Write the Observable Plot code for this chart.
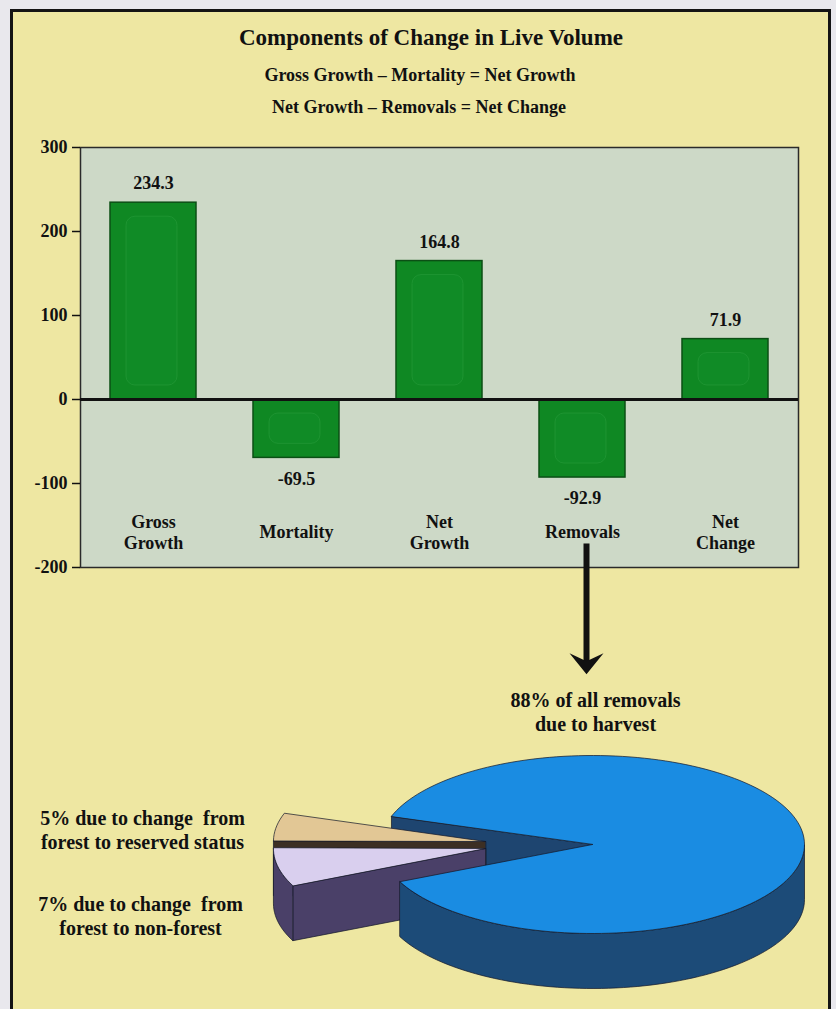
<!DOCTYPE html>
<html><head><meta charset="utf-8">
<script src="https://cdn.jsdelivr.net/npm/d3@7"></script>
<script src="https://cdn.jsdelivr.net/npm/@observablehq/plot@0.6"></script>
<style>
html,body{margin:0;padding:0;background:#e9e8ed;}
#page{position:relative;width:836px;height:1009px;overflow:hidden;background:#e9e8ed;font-family:'Liberation Serif','Times New Roman',serif;font-weight:bold;color:#111;}
#panel{position:absolute;left:10px;top:9px;width:821px;height:1100px;box-sizing:border-box;border:3px solid #141414;background:#eee7a2;}
.t{position:absolute;white-space:nowrap;line-height:1;transform:translate(-50%,-50%);}
#bar,#pie{position:absolute;left:0;}
#bar{top:120px;} #pie{top:680px;}
</style></head><body>
<div id="page">
  <div id="panel"></div>
  <div class="t" style="left:431px;top:37px;font-size:23px">Components of Change in Live Volume</div>
  <div class="t" style="left:420px;top:75px;font-size:18px">Gross Growth – Mortality = Net Growth</div>
  <div class="t" style="left:419px;top:107px;font-size:18px">Net Growth – Removals = Net Change</div>
  <div id="bar"></div>
  <div id="pie"></div>
</div>
<script>
// ---- Bar chart data ----
const categories = ["Gross Growth", "Mortality", "Net Growth", "Removals", "Net Change"];
const categoryLabels = ["Gross\nGrowth", "Mortality", "Net\nGrowth", "Removals", "Net\nChange"];
const values = [234.3, -69.5, 164.8, -92.9, 71.9];
const yTicks = [-200, -100, 0, 100, 200, 300];
const yDomain = [-200, 300];

// ---- Pie data (removals breakdown) ----
const sliceNames = ["Reserved status", "Non-forest", "Harvest"];
const sliceShares = [5, 7, 88];
const sliceLabels = [
  "5% due to change  from\nforest to reserved status",
  "7% due to change  from\nforest to non-forest",
  "88% of all removals\ndue to harvest"
];

// ---- Styling / layout ----
const font = "'Liberation Serif','Times New Roman',serif";
const barData = categories.map((c, i) => ({cat: c, label: categoryLabels[i], value: values[i]}));
const fmt = v => String(v);

// stealth arrowhead symbol, origin at the tip
const stealth = {
  draw(ctx) {
    ctx.moveTo(0, 0);
    ctx.lineTo(-17, -21);
    ctx.lineTo(0, -13);
    ctx.lineTo(17, -21);
    ctx.closePath();
  }
};

const bar = Plot.plot({
  width: 836, height: 570,
  marginTop: 27, marginBottom: 123, marginLeft: 80, marginRight: 38,
  x: {domain: categories, paddingInner: 0.4, paddingOuter: 0.2, axis: null},
  y: {domain: yDomain, axis: null},
  style: {background: "transparent", fontFamily: font, fontSize: "18px", fontWeight: "bold", color: "#111", overflow: "visible"},
  marks: [
    Plot.frame({fill: "#cdd9c7", stroke: "#2a2a2a", strokeWidth: 1.5}),
    Plot.axisY({ticks: yTicks, tickSize: 8, tickPadding: 5, tickFormat: fmt, label: null, fontSize: 18, fontWeight: "bold", strokeWidth: 1.5}),
    Plot.barY(barData, {x: "cat", y: "value", fill: "#0f8823", stroke: "#0b4f15", strokeWidth: 1.5}),
    Plot.barY(barData, {x: "cat", y: "value", insetLeft: 16, insetRight: 19, insetTop: 14, insetBottom: 14, rx: 9,
      fill: "#108b26", stroke: "#3aa64b", strokeOpacity: 0.35, strokeWidth: 1}),
    Plot.ruleY([0], {stroke: "#111", strokeWidth: 3}),
    Plot.text(barData.filter(d => d.value > 0), {x: "cat", y: "value", text: d => fmt(d.value), dy: -19}),
    Plot.text(barData.filter(d => d.value < 0), {x: "cat", y: "value", text: d => fmt(d.value), dy: 21}),
    Plot.text(barData, {x: "cat", text: "label", frameAnchor: "bottom", lineAnchor: "middle", dy: -36, lineHeight: 1.2}),
    Plot.ruleX([{from: "Removals"}], {x: "from", y1: () => -172, y2: () => -318, stroke: "#111", strokeWidth: 6, dx: 4}),
    Plot.dot([{from: "Removals"}], {x: "from", y: () => -327, symbol: stealth, fill: "#111", stroke: "none", dx: 4})
  ]
});
document.getElementById("bar").appendChild(bar);

// ---- 3D pie ----
const pieW = 836, pieH = 329, pieTop = 680;
const cx = 592, cy = 844 - pieTop, rx = 212, ry = 89, depthPx = 55;
const depth = depthPx / ry;
const startAngle = 161.5;
const explode = [[-0.505, 0.034], [-0.505, -0.045], [0, 0]];
const topFill = ["#e2c795", "#d9cfee", "#1a8ce2"];
const sideFill = ["#3c2f24", "#4a4068", "#1c4b78"];
const faceFill = ["#3c2f24", "#4a4068", "#1e4570"];
const total = d3.sum(sliceShares);
const rad = a => a * Math.PI / 180;

let a = startAngle;
const slices = sliceShares.map((s, i) => {
  const a0 = a, a1 = a + s / total * 360; a = a1;
  return {i, a0, a1, ox: explode[i][0], oy: explode[i][1]};
});
function arc(sl, b0, b1, dz) {
  const n = Math.max(2, Math.ceil(Math.abs(b1 - b0) / 2));
  return d3.range(n + 1).map(k => {
    const t = rad(b0 + (b1 - b0) * k / n);
    return {x: sl.ox + Math.cos(t), y: sl.oy + Math.sin(t) - dz};
  });
}
function topPoly(sl) { return [{x: sl.ox, y: sl.oy}, ...arc(sl, sl.a0, sl.a1, 0)]; }
function sidePolys(sl) {
  const out = [];
  for (const base of [180, 540]) {
    const s = Math.max(sl.a0, base), e = Math.min(sl.a1, base + 180);
    if (e > s) out.push([...arc(sl, s, e, 0), ...arc(sl, e, s, depth)]);
  }
  return out;
}
function facePolys(sl) {
  const out = [];
  const mk = ang => {
    const t = rad(ang);
    return [{x: sl.ox, y: sl.oy}, {x: sl.ox + Math.cos(t), y: sl.oy + Math.sin(t)},
            {x: sl.ox + Math.cos(t), y: sl.oy + Math.sin(t) - depth}, {x: sl.ox, y: sl.oy - depth}];
  };
  if (Math.cos(rad(sl.a1)) < 0) out.push(mk(sl.a1));
  if (Math.cos(rad(sl.a0)) > 0) out.push(mk(sl.a0));
  return out;
}
const polys = [];
const main = slices.find(s => s.ox === 0 && s.oy === 0);
facePolys(main).forEach(p => polys.push({p, fill: faceFill[main.i]}));
slices.filter(s => s !== main).forEach(sl => {
  facePolys(sl).forEach(p => polys.push({p, fill: faceFill[sl.i]}));
  sidePolys(sl).forEach(p => polys.push({p, fill: sideFill[sl.i]}));
  polys.push({p: topPoly(sl), fill: topFill[sl.i]});
});
sidePolys(main).forEach(p => polys.push({p, fill: sideFill[main.i]}));
polys.push({p: topPoly(main), fill: topFill[main.i]});

const px2u = x => (x - cx) / rx, py2v = y => (cy - y) / ry;
const labelPos = [[142, 829 - pieTop], [140, 915 - pieTop], [595, 711 - pieTop]];
const labelData = sliceLabels.map((t, i) => ({text: t, x: px2u(labelPos[i][0]), y: py2v(labelPos[i][1])}));

const pie = Plot.plot({
  width: pieW, height: pieH, margin: 0,
  x: {domain: [px2u(0), px2u(pieW)], axis: null},
  y: {domain: [py2v(pieH), py2v(0)], axis: null},
  style: {background: "transparent", fontFamily: font, fontSize: "20px", fontWeight: "bold", color: "#111", overflow: "visible"},
  marks: [
    ...polys.map(({p, fill}) => Plot.line(p, {x: "x", y: "y", curve: "linear-closed", fill, stroke: "#15192a", strokeWidth: 0.9, strokeOpacity: 0.8})),
    Plot.text(labelData, {x: "x", y: "y", text: "text", lineHeight: 1.2, fontSize: 20})
  ]
});
document.getElementById("pie").appendChild(pie);
</script>
</body></html>
